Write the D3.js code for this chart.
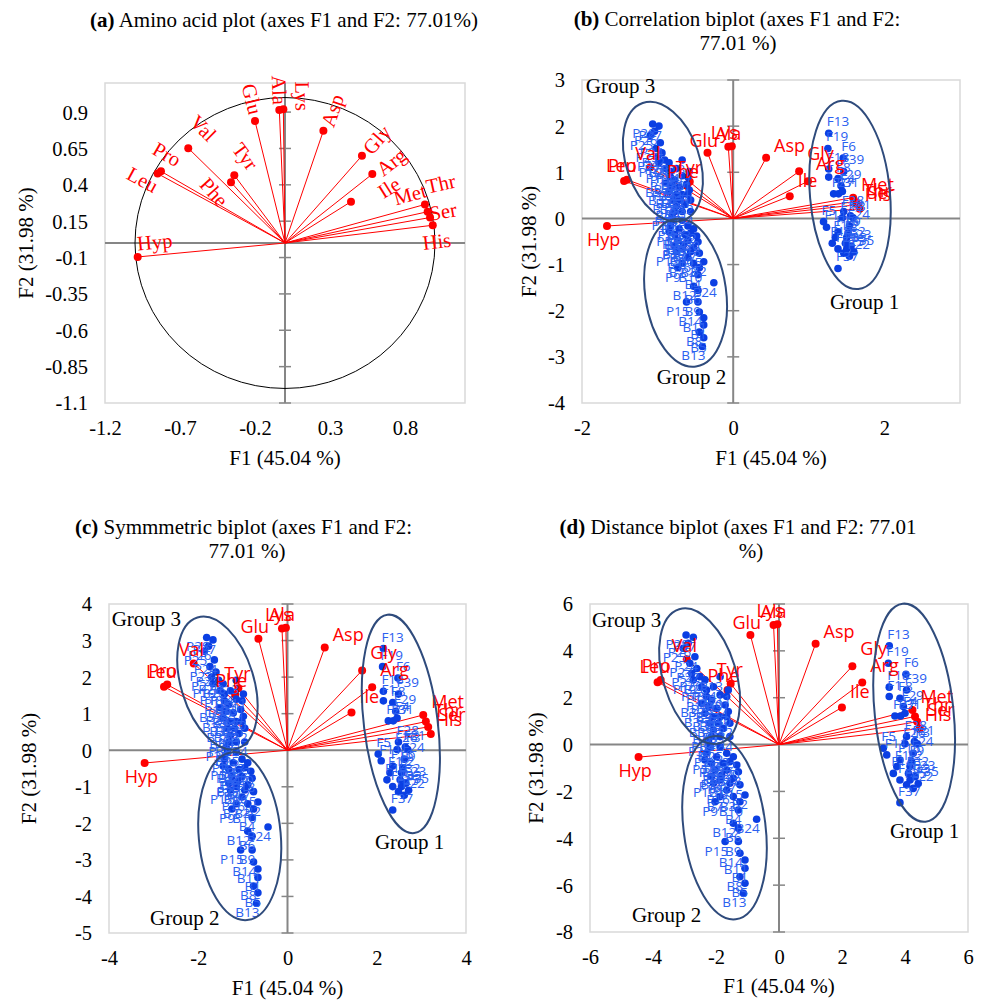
<!DOCTYPE html>
<html>
<head>
<meta charset="utf-8">
<script src="https://cdn.jsdelivr.net/npm/d3@7"></script>
<style>
  body { margin: 0; background: #fff; }
  svg { display: block; }
  text { white-space: pre; }
</style>
</head>
<body>
<svg id="chart" width="983" height="1000"></svg>
<script>
// amino acid loadings (correlations with F1 and F2)
const aminoAcids = ["Ala","Lys","Glu","Asp","Val","Gly","Arg","Pro","Leu","Tyr","Phe","Ile","Met","Thr","Ser","His","Hyp"];
const corrF1 = [-0.038,-0.011,-0.20,0.256,-0.645,0.513,0.582,-0.827,-0.849,-0.338,-0.36,0.44,0.933,0.951,0.967,0.985,-0.982];
const corrF2 = [0.915,0.92,0.838,0.772,0.652,0.60,0.474,0.493,0.477,0.466,0.418,0.284,0.265,0.215,0.175,0.122,-0.096];

// sample scores (distance biplot units)
const group1Names = ["F13","F19","F6","F39","F18","F1","F8","F29","F27","F31","F4","F28","F26","F21","F3","F5","F11","F24","F16","F9","F12","F2","F14","F32","F20","F33","F23","F25","F22","F35","F37"];
const group1F1 = [3.50,3.47,4.03,4.05,3.50,3.50,3.84,3.95,3.68,3.86,4.00,4.05,4.00,4.30,4.39,3.31,3.42,4.26,3.84,4.21,3.74,4.16,3.63,4.11,3.84,4.16,4.32,4.05,4.26,4.42,3.84];
const group1F2 = [4.22,3.47,3.00,2.33,2.45,2.05,1.98,1.62,1.22,1.22,1.34,0.34,0.03,0.13,0.03,-0.16,-0.44,-0.37,-0.66,-0.73,-0.94,-0.94,-1.23,-1.23,-1.51,-1.51,-1.37,-1.72,-1.87,-1.66,-2.48];

const group2Names = ["B13","B5","B8","B1","B11","B14","B9","P15","B6","B12","B24","B4","B10","P9","B7","B3","B2","P16","B15","B16","P12","P8","B17","P7","B18","B19","P6","B20","B21","P4","B22","P3","P2","B23","B25","P1","P5","B26","B27"];
const group2F1 = [-1.13,-1.08,-1.24,-1.08,-1.08,-1.24,-1.29,-1.71,-1.29,-1.45,-0.71,-1.29,-1.24,-2.03,-1.87,-1.45,-1.08,-1.66,-1.24,-1.56,-2.08,-1.87,-1.45,-2.14,-1.29,-1.66,-2.03,-1.34,-1.77,-2.14,-1.45,-1.98,-2.30,-1.66,-1.87,-2.19,-2.35,-1.56,-1.82];
const group2F2 = [-6.35,-5.92,-5.64,-5.28,-4.93,-4.64,-4.14,-4.14,-3.57,-3.36,-3.19,-2.79,-2.44,-2.44,-2.22,-2.22,-2.15,-1.94,-1.72,-1.65,-1.65,-1.51,-1.44,-1.37,-1.16,-1.09,-1.09,-0.87,-0.80,-0.80,-0.52,-0.52,-0.37,-0.37,-0.09,-0.09,-0.66,-0.73,-1.30];

const group3Names = ["P28","P27","P26","P25","P24","P23","P22","P21","P20","P19","B28","P18","P17","P14","P13","P11","P10","B29","B30","B31","B32","P29","B33","B34","P30","B35","B36","B37","P31","B38","B39","P32","B40","B41","P33","B42","P34","P35"];
const group3F1 = [-2.95,-2.72,-2.88,-3.04,-2.67,-2.83,-2.61,-2.77,-2.51,-2.72,-2.35,-2.46,-2.30,-2.08,-1.87,-1.61,-2.30,-2.14,-1.87,-1.66,-2.46,-2.24,-1.98,-1.71,-1.61,-2.35,-2.08,-1.87,-1.66,-2.19,-1.93,-1.56,-2.08,-1.77,-2.14,-1.87,-1.56,-2.24];
const group3F2 = [4.68,4.58,4.32,4.11,3.75,3.47,3.25,3.04,2.90,2.76,2.76,2.47,2.33,2.47,2.90,2.33,2.05,1.90,2.12,2.05,1.76,1.62,1.55,1.69,1.41,1.34,1.19,1.19,1.19,0.91,0.91,0.91,0.62,0.69,0.34,0.34,0.34,0.13];

const SERIF = "'Liberation Serif','Times New Roman',serif";
const SANS = "'Open Sans','Noto Sans',sans-serif";
const RED = "#ff0000", BLUE_PT = "#0b3fe3", BLUE_TXT = "#2b60f0", ELL = "#2f4b7c";
const AXIS = "#868686", BORDER = "#d9d9d9";

const svg = d3.select("#chart");

const aminoData = aminoAcids.map((n, i) => ({name: n, f1: corrF1[i], f2: corrF2[i]}));
const sampleGroups = [
  {names: group1Names, f1: group1F1, f2: group1F2, side: "right"},
  {names: group2Names, f1: group2F1, f2: group2F2, side: "left"},
  {names: group3Names, f1: group3F1, f2: group3F2, side: "left"}
];

// label nudges for the (a) circle: centre offset in px
const circleLabelNudge = {Val:[15,-20],Pro:[6,-17],Leu:[-15,6],Tyr:[11,-19],Phe:[-17,10],Glu:[-3,-22],Ala:[0,-20],
  Lys:[19,-13],Asp:[9,-20],Gly:[15,-16],Arg:[19,-12],Ile:[38,-14],Met:[-15,-10],Thr:[13,-28],Ser:[13,-6],His:[4,16],Hyp:[17,-15]};
// label nudges for biplots: start / baseline offset in px
const biplotLabelNudge = {Hyp:[-20,20],Leu:[-18,-9],Pro:[-19,-8],Val:[-15,-7],Tyr:[-14,-8],Phe:[-20,-8],Glu:[-18,-6],
  Ala:[-13,-7],Lys:[-21,-7],Asp:[8,-6],Gly:[8,-11],Arg:[8,-11],Ile:[8,-9],Met:[8,-7],Thr:[8,-5],Ser:[10,-6],His:[5,-8]};

const fmt = v => String(+v.toFixed(2));

function setupPanel(p) {
  const x = d3.scaleLinear().domain(p.xDom).range([p.box.l, p.box.r]);
  const y = d3.scaleLinear().domain(p.yDom).range([p.box.b, p.box.t]);
  const g = svg.append("g");

  g.append("rect")
    .attr("x", p.box.l).attr("y", p.box.t)
    .attr("width", p.box.r - p.box.l).attr("height", p.box.b - p.box.t)
    .attr("fill", "none").attr("stroke", BORDER).attr("stroke-width", 1.5);

  const xa = g.append("g")
    .attr("transform", `translate(0,${p.box.b + 31.5})`)
    .call(d3.axisBottom(x).tickValues(p.xTicks).tickSize(0).tickFormat(fmt));
  xa.select(".domain").remove();
  xa.attr("font-family", SERIF).attr("font-size", 20.5);
  xa.selectAll("text").attr("y", 0).attr("dy", null).attr("fill", "#000");

  const ya = g.append("g")
    .attr("transform", `translate(${p.box.l - 17},0)`)
    .call(d3.axisLeft(y).tickValues(p.yTicks).tickSize(0).tickPadding(0).tickFormat(fmt));
  ya.select(".domain").remove();
  ya.attr("font-family", SERIF).attr("font-size", 20.5);
  ya.selectAll("text").attr("x", 0).attr("dy", "0.34em").attr("fill", "#000");

  // axes crossing at the origin
  g.append("line").attr("x1", x(0)).attr("x2", x(0)).attr("y1", p.box.t).attr("y2", p.box.b)
    .attr("stroke", AXIS).attr("stroke-width", 2);
  g.append("line").attr("x1", p.box.l).attr("x2", p.box.r).attr("y1", y(0)).attr("y2", y(0))
    .attr("stroke", AXIS).attr("stroke-width", 2);
  g.selectAll(".ytk").data(p.yTicks.filter(d => d !== 0)).join("line")
    .attr("x1", x(0) - 6).attr("x2", x(0) + 6)
    .attr("y1", d => y(d)).attr("y2", d => y(d))
    .attr("stroke", AXIS).attr("stroke-width", 1.5);

  // titles
  const t = svg.append("text").attr("x", p.title.x).attr("y", p.title.y)
    .attr("text-anchor", "middle").attr("font-family", SERIF).attr("font-size", 21);
  t.append("tspan").attr("font-weight", "bold").text(p.title.bold);
  t.append("tspan").text(p.title.lines[0]);
  if (p.title.lines[1]) {
    svg.append("text").attr("x", p.title.x2).attr("y", p.title.y + 24)
      .attr("text-anchor", "middle").attr("font-family", SERIF).attr("font-size", 21)
      .text(p.title.lines[1]);
  }
  svg.append("text").attr("x", (p.box.l + p.box.r) / 2).attr("y", p.xTitleY)
    .attr("text-anchor", "middle").attr("font-family", SERIF).attr("font-size", 21)
    .text("F1 (45.04 %)");
  svg.append("text")
    .attr("transform", `translate(${p.yTitleX},${(p.box.t + p.box.b) / 2}) rotate(-90)`)
    .attr("text-anchor", "middle").attr("font-family", SERIF).attr("font-size", 21)
    .text("F2 (31.98 %)");

  return {g, x, y};
}

/* ---------- (a) amino acid circle ---------- */
const panelA = {
  box: {l: 105, t: 83, r: 465, b: 403}, xDom: [-1.2, 1.2], yDom: [-1.1, 1.1],
  xTicks: [-1.2, -0.7, -0.2, 0.3, 0.8], yTicks: [-1.1, -0.85, -0.6, -0.35, -0.1, 0.15, 0.4, 0.65, 0.9],
  title: {bold: "(a)", lines: [" Amino acid plot (axes F1 and F2: 77.01%)"], x: 284, y: 27},
  xTitleY: 465, yTitleX: 33
};

function drawCircle(p) {
  const {g, x, y} = setupPanel(p);
  g.append("ellipse").attr("cx", x(0)).attr("cy", y(0))
    .attr("rx", x(1) - x(0)).attr("ry", y(0) - y(1))
    .attr("fill", "none").attr("stroke", "#000").attr("stroke-width", 1);

  g.selectAll(".vec").data(aminoData).join("line")
    .attr("x1", x(0)).attr("y1", y(0))
    .attr("x2", d => x(d.f1)).attr("y2", d => y(d.f2))
    .attr("stroke", RED).attr("stroke-width", 1);
  g.selectAll(".vpt").data(aminoData).join("circle")
    .attr("cx", d => x(d.f1)).attr("cy", d => y(d.f2)).attr("r", 4).attr("fill", RED);

  g.selectAll(".vlab").data(aminoData).join("text")
    .attr("transform", d => {
      const px = x(d.f1), py = y(d.f2);
      let rot = Math.atan2(py - y(0), px - x(0)) * 180 / Math.PI;
      if (rot < -90) rot += 180;
      if (rot > 90) rot -= 180;
      const n = circleLabelNudge[d.name] || [0, 0];
      return `translate(${px + n[0]},${py + n[1]}) rotate(${rot})`;
    })
    .attr("text-anchor", "middle").attr("dominant-baseline", "central")
    .attr("font-family", SERIF).attr("font-size", 20.5).attr("fill", RED)
    .text(d => d.name);
}

/* ---------- (b), (c), (d) biplots ---------- */
const biplots = [
  {
    box: {l: 582, t: 80, r: 960, b: 403}, xDom: [-2, 3], yDom: [-4, 3],
    xTicks: [-2, 0, 2], yTicks: [-4, -3, -2, -1, 0, 1, 2, 3],
    ptScale: [0.361, 0.437], vecScale: [1.70, 1.70],
    title: {bold: "(b)", lines: [" Correlation biplot (axes F1 and F2:", "77.01 %)"], x: 737, x2: 738, y: 26},
    xTitleY: 465, yTitleX: 536,
    ellipses: [{cx: -0.93, cy: 1.23, rx: 36.5, ry: 62, rot: -19},
               {cx: -0.63, cy: -1.61, rx: 40.5, ry: 74.5, rot: -8},
               {cx: 1.545, cy: 0.51, rx: 40, ry: 94.5, rot: -5}],
    groupText: [{t: "Group 3", x: -1.95, y: 2.71}, {t: "Group 1", x: 1.28, y: -1.96}, {t: "Group 2", x: -1.01, y: -3.59}]
  },
  {
    box: {l: 109, t: 604, r: 466, b: 933}, xDom: [-4, 4], yDom: [-5, 4],
    xTicks: [-4, -2, 0, 2, 4], yTicks: [-5, -4, -3, -2, -1, 0, 1, 2, 3, 4],
    ptScale: [0.614, 0.659], vecScale: [3.26, 3.64],
    title: {bold: "(c)", lines: [" Symmmetric biplot (axes F1 and F2:", "77.01 %)"], x: 243.5, x2: 247, y: 534},
    xTitleY: 995, yTitleX: 36,
    ellipses: [{cx: -1.57, cy: 1.84, rx: 36.4, ry: 68.5, rot: -17},
               {cx: -1.07, cy: -2.35, rx: 41, ry: 84.3, rot: -5},
               {cx: 2.54, cy: 0.72, rx: 36.9, ry: 110, rot: -7}],
    groupText: [{t: "Group 3", x: -3.94, y: 3.40}, {t: "Group 1", x: 1.96, y: -2.70}, {t: "Group 2", x: -3.08, y: -4.78}]
  },
  {
    box: {l: 590, t: 604, r: 968, b: 932}, xDom: [-6, 6], yDom: [-8, 6],
    xTicks: [-6, -4, -2, 0, 2, 4, 6], yTicks: [-8, -6, -4, -2, 0, 2, 4, 6],
    ptScale: [1, 1], vecScale: [4.54, 5.58],
    title: {bold: "(d)", lines: [" Distance biplot (axes F1 and F2: 77.01", "%)"], x: 738, x2: 751, y: 534},
    xTitleY: 993, yTitleX: 543,
    ellipses: [{cx: -2.52, cy: 2.92, rx: 36.5, ry: 70, rot: -17},
               {cx: -1.73, cy: -3.55, rx: 41, ry: 92.2, rot: -7},
               {cx: 4.29, cy: 1.36, rx: 39.4, ry: 109.6, rot: -6}],
    groupText: [{t: "Group 3", x: -5.94, y: 5.02}, {t: "Group 1", x: 3.52, y: -3.99}, {t: "Group 2", x: -4.67, y: -7.57}]
  }
];

function drawBiplot(p) {
  const {g, x, y} = setupPanel(p);
  const vx = d => x(d.f1 * p.vecScale[0]);
  const vy = d => y(d.f2 * p.vecScale[1]);

  g.selectAll(".vec").data(aminoData).join("line")
    .attr("x1", x(0)).attr("y1", y(0)).attr("x2", vx).attr("y2", vy)
    .attr("stroke", RED).attr("stroke-width", 1);
  g.selectAll(".vpt").data(aminoData).join("circle")
    .attr("cx", vx).attr("cy", vy).attr("r", 4).attr("fill", RED);

  sampleGroups.forEach(grp => {
    const pts = grp.names.map((n, i) => ({name: n, f1: grp.f1[i] * p.ptScale[0], f2: grp.f2[i] * p.ptScale[1]}));
    const sg = g.append("g");
    sg.selectAll("circle").data(pts).join("circle")
      .attr("cx", d => x(d.f1)).attr("cy", d => y(d.f2)).attr("r", 3.8).attr("fill", BLUE_PT);
    sg.selectAll("text").data(pts).join("text")
      .attr("x", d => x(d.f1) + (grp.side === "right" ? -2 : 3))
      .attr("y", d => y(d.f2) + (grp.side === "right" ? -7 : 14))
      .attr("text-anchor", grp.side === "right" ? "start" : "end")
      .attr("font-family", SANS).attr("font-size", 13.5).attr("fill", BLUE_TXT)
      .text(d => d.name);
  });

  g.selectAll(".vlab").data(aminoData).join("text")
    .attr("x", d => vx(d) + biplotLabelNudge[d.name][0])
    .attr("y", d => vy(d) + biplotLabelNudge[d.name][1])
    .attr("font-family", SANS).attr("font-size", 18).attr("fill", RED)
    .text(d => d.name);

  g.selectAll(".ell").data(p.ellipses).join("ellipse")
    .attr("transform", d => `translate(${x(d.cx)},${y(d.cy)}) rotate(${d.rot})`)
    .attr("rx", d => d.rx).attr("ry", d => d.ry)
    .attr("fill", "none").attr("stroke", ELL).attr("stroke-width", 2);

  g.selectAll(".grp").data(p.groupText).join("text")
    .attr("x", d => x(d.x)).attr("y", d => y(d.y))
    .attr("font-family", SERIF).attr("font-size", 21).attr("fill", "#000")
    .text(d => d.t);
}

drawCircle(panelA);
biplots.forEach(drawBiplot);
</script>
</body>
</html>
